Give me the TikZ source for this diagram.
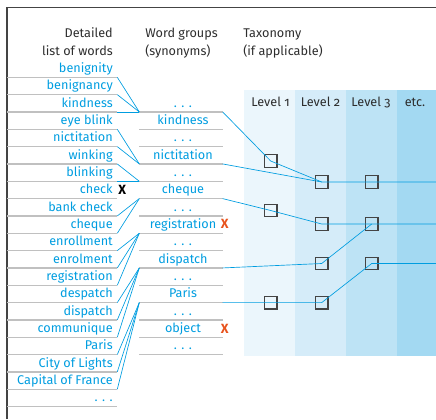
\documentclass[tikz,border=0pt]{standalone}
\usepackage{fontspec}
\setmainfont{Fira Sans}[Numbers=OldStyle]
\usetikzlibrary{positioning}

\definecolor{wordblue}{RGB}{0,157,224}
\definecolor{rulegray}{RGB}{192,192,192}
\definecolor{boxgray}{RGB}{68,68,68}
\definecolor{headgray}{RGB}{45,45,45}
\definecolor{xorange}{RGB}{232,84,30}
\definecolor{lev1}{RGB}{235,246,252}
\definecolor{lev2}{RGB}{213,236,249}
\definecolor{lev3}{RGB}{189,227,245}
\definecolor{lev4}{RGB}{163,217,242}

\begin{document}
\begin{tikzpicture}[x=0.75pt, y=-0.75pt, font=\fontsize{9.5}{13}\selectfont]

        % Styles
        \tikzstyle{word}=[inner sep=0pt, text=wordblue]
        \tikzstyle{head}=[inner sep=0pt, text=headgray]
        \tikzstyle{rule}=[draw=rulegray, line width=1pt]
        \tikzstyle{link}=[draw=wordblue, line width=0.5pt]
        \tikzstyle{tbox}=[draw=boxgray, line width=0.9pt, minimum size=9.5pt, inner sep=0pt]
        \tikzstyle{xmark}=[inner sep=0pt, font=\fontsize{10}{13}\selectfont\bfseries]

        \useasboundingbox (0,0) rectangle (436,419);

        % Bands
        \fill[lev1] (244,90) rectangle (295,355.7);
        \fill[lev2] (295,90) rectangle (346,355.7);
        \fill[lev3] (346,90) rectangle (397,355.7);
        \fill[lev4] (397,90) rectangle (436,355.7);

        % Frame
        \draw[boxgray, line width=0.8pt] (7,419) -- (7,7.5) -- (436,7.5);

        % Headers
        \node[head, align=right, anchor=base east] (hwords) at (113,55) {Detailed\\list of words};
        \node[head, align=left, anchor=base west] (hgroups) at (145,55) {Word groups\\(synonyms)};
        \node[head, align=left, anchor=base west] (htax) at (243,55) {Taxonomy\\(if applicable)};
        \node[head, anchor=base] (lv1) at (270.5,106) {Level 1};
        \node[head, anchor=base] (lv2) at (320.5,106) {Level 2};
        \node[head, anchor=base] (lv3) at (371,106) {Level 3};
        \node[head, anchor=base] (lv4) at (415,106) {etc.};

        % Detailed list of words
        \foreach \w [count=\k from 0] in {benignity, benignancy, kindness, eye blink, nictitation,
            winking, blinking, check, bank check, cheque, enrollment, enrolment, registration,
            despatch, dispatch, communique, Paris, City of Lights, Capital of France, . . .} {
            \pgfmathsetmacro\y{77.3+17.33*\k}
            \coordinate (lL\k) at (7,\y);
            \coordinate (lR\k) at (117.3,\y);
            \node[word, anchor=base east] (w\k) at (113,\y-4.7) {\w};
            \draw[rule] (lL\k) -- (lR\k);
        }

        % Word groups
        \foreach \w [count=\k from 2] in {. . ., kindness, . . ., nictitation, . . ., cheque, . . .,
            registration, . . ., dispatch, . . ., Paris, . . ., object, . . .} {
            \pgfmathsetmacro\y{77.3+17.33*\k}
            \coordinate (gL\k) at (139.3,\y);
            \coordinate (gR\k) at (222.7,\y);
            \node[word, anchor=base] (g\k) at (183,\y-4.7) {\w};
            \draw[rule] (gL\k) -- (gR\k);
        }

        % Crosses
        \node[xmark, anchor=base west, text=black] (xcheck) at (118,194.6) {X};
        \node[xmark, anchor=base west, text=xorange] (xreg) at (220.7,228.6) {X};
        \node[xmark, anchor=base west, text=xorange] (xobj) at (220.7,333) {X};

        % Words to groups
        \foreach \a/\b in {0/2, 1/2, 2/2, 3/5, 4/5, 5/6, 6/6, 8/7, 9/7, 10/9, 11/9, 12/9,
            13/11, 14/11, 15/11, 16/13, 17/13, 18/13}
            \draw[link] (lR\a) -- (gL\b);

        % Taxonomy boxes
        \node[tbox] (b1a) at (270.7,161) {};
        \node[tbox] (b1b) at (270.7,210.5) {};
        \node[tbox] (b1c) at (270.7,302.6) {};
        \node[tbox] (b2a) at (321.7,182) {};
        \node[tbox] (b2b) at (321.7,224) {};
        \node[tbox] (b2c) at (321.7,263.5) {};
        \node[tbox] (b2d) at (321.7,302.6) {};
        \node[tbox] (b3a) at (371.7,182) {};
        \node[tbox] (b3b) at (371.7,224) {};
        \node[tbox] (b3c) at (371.7,263.5) {};
        \coordinate (r1) at (436,182);
        \coordinate (r2) at (436,224);
        \coordinate (r3) at (436,263.5);

        % Groups to taxonomy
        \draw[link] (gR2) -- (b1a.center) -- (b2a.center);
        \draw[link] (gR5) -- (b2a.center) -- (r1);
        \draw[link] (gR7) -- (b1b.center) -- (b2b.center) -- (r2);
        \draw[link] (gR11) -- (b2c.center) -- (b3b.center);
        \draw[link] (gR13) -- (b1c.center) -- (b2d.center) -- (b3c.center) -- (r3);

    \end{tikzpicture}
\end{document}
